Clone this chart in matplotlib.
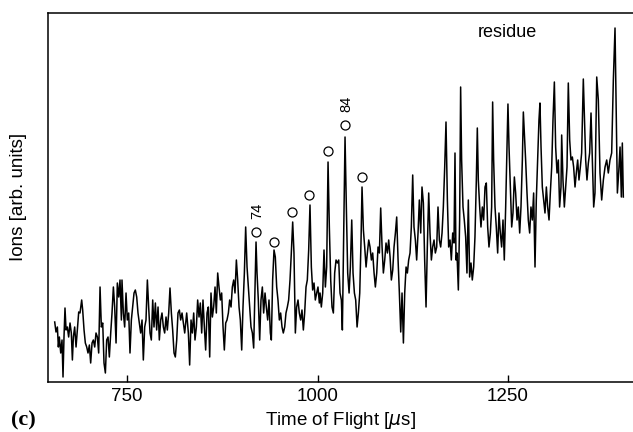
import matplotlib.pyplot as plt

plt.rcParams['font.family'] = ['Liberation Sans', 'DejaVu Sans']

# spectrum: time of flight [us] and ion signal [arb.]
tof = [
    655.1, 656.8, 658.6, 659.9, 661.2, 663.0, 664.7, 666.0, 667.3, 668.6,
    670.0, 671.7, 673.4, 675.2, 676.9, 678.3, 679.6, 681.3, 683.1, 684.8,
    686.6, 688.3, 690.5, 691.8, 693.6, 695.3, 697.1, 698.8, 700.6, 702.3,
    704.1, 705.8, 707.6, 709.3, 711.1, 712.8, 714.6, 716.3, 718.1, 719.8,
    721.6, 723.3, 725.1, 726.8, 728.6, 730.3, 732.1, 733.8, 735.6, 737.3,
    739.1, 740.8, 742.6, 743.4, 745.2, 746.9, 748.7, 750.4, 752.2, 753.9,
    755.7, 757.4, 759.2, 760.9, 762.7, 764.4, 766.2, 767.9, 769.7, 771.4,
    773.2, 774.9, 776.7, 778.4, 780.2, 781.9, 783.7, 785.4, 787.2, 788.9,
    790.7, 792.4, 794.2, 795.9, 797.7, 799.4, 801.2, 802.9, 804.7, 806.4,
    808.2, 809.9, 811.7, 813.4, 815.2, 816.9, 818.7, 820.4, 822.2, 823.9,
    825.7, 827.4, 828.3, 830.5, 832.2, 834.0, 835.7, 837.5, 839.2, 841.0,
    842.7, 844.5, 846.2, 848.0, 849.7, 851.5, 853.2, 855.0, 856.7, 858.5,
    860.2, 862.0, 863.7, 865.5, 867.2, 869.0, 870.7, 872.5, 874.2, 876.0,
    877.7, 879.5, 881.2, 883.0, 884.7, 886.5, 888.2, 890.0, 891.7, 893.5,
    895.2, 897.0, 898.7, 900.5, 902.2, 904.0, 905.7, 907.5, 909.2, 911.0,
    912.7, 914.5, 916.2, 918.0, 919.3, 920.6, 922.3, 924.1, 925.8, 927.6,
    929.3, 931.1, 932.8, 934.6, 936.3, 938.1, 939.4, 941.1, 942.9, 944.6,
    946.4, 948.1, 949.9, 951.6, 953.4, 955.1, 956.9, 958.6, 960.4, 962.1,
    963.9, 965.6, 967.4, 969.1, 970.9, 972.6, 974.4, 976.1, 977.9, 979.6,
    981.4, 983.1, 984.9, 986.6, 988.4, 990.1, 991.9, 993.6, 995.4, 997.1,
    998.9, 1000.6, 1002.4, 1003.3, 1005.0, 1006.8, 1008.5, 1010.3, 1012.0, 1013.8,
    1015.5, 1017.3, 1019.0, 1020.8, 1022.5, 1024.3, 1026.0, 1027.8, 1029.5, 1031.3,
    1032.6, 1034.4, 1036.1, 1037.9, 1039.6, 1041.4, 1043.1, 1044.9, 1046.6, 1048.4,
    1050.1, 1051.9, 1053.6, 1055.4, 1057.1, 1058.4, 1060.2, 1061.9, 1063.7, 1065.4,
    1067.2, 1068.9, 1070.7, 1072.4, 1074.2, 1075.9, 1077.7, 1079.4, 1081.2, 1082.9,
    1084.7, 1086.4, 1088.2, 1089.9, 1091.7, 1093.4, 1095.2, 1096.9, 1098.7, 1100.4,
    1102.2, 1103.9, 1105.7, 1107.4, 1109.2, 1110.9, 1112.7, 1114.4, 1116.2, 1117.9,
    1119.6, 1121.4, 1123.1, 1124.9, 1126.6, 1128.4, 1130.1, 1131.9, 1133.6, 1135.4,
    1137.1, 1138.9, 1140.6, 1142.4, 1144.1, 1145.9, 1147.6, 1149.4, 1151.1, 1152.9,
    1154.6, 1156.4, 1158.1, 1159.9, 1161.6, 1163.4, 1165.1, 1166.9, 1168.6, 1170.4,
    1172.1, 1173.9, 1175.6, 1177.4, 1179.1, 1180.4, 1181.7, 1183.0, 1184.8, 1186.5,
    1187.8, 1189.1, 1190.9, 1192.6, 1194.4, 1196.1, 1197.9, 1199.6, 1201.4, 1203.1,
    1204.9, 1206.6, 1208.4, 1209.7, 1211.0, 1212.8, 1214.5, 1216.3, 1218.0, 1219.8,
    1221.5, 1223.3, 1225.0, 1226.8, 1228.5, 1229.8, 1231.1, 1232.9, 1234.6, 1236.4,
    1238.1, 1239.9, 1241.6, 1243.4, 1245.1, 1246.9, 1248.6, 1249.9, 1251.3, 1253.0,
    1254.8, 1256.5, 1258.3, 1260.0, 1261.8, 1263.5, 1265.3, 1267.0, 1268.8, 1270.1,
    1271.4, 1273.1, 1274.9, 1276.6, 1278.4, 1280.1, 1281.9, 1283.6, 1285.4, 1287.1,
    1288.9, 1290.6, 1291.9, 1293.3, 1295.0, 1296.8, 1298.5, 1300.3, 1302.0, 1303.8,
    1305.5, 1307.3, 1309.0, 1310.8, 1312.5, 1314.3, 1316.0, 1317.7, 1319.5, 1320.4,
    1322.1, 1323.9, 1325.6, 1327.4, 1329.1, 1330.9, 1332.6, 1334.4, 1336.1, 1337.9,
    1339.6, 1341.4, 1343.1, 1344.9, 1346.6, 1348.8, 1350.1, 1351.9, 1353.6, 1355.4,
    1357.1, 1358.9, 1360.6, 1362.4, 1364.1, 1366.4, 1368.5, 1370.7, 1372.9, 1375.1,
    1377.3, 1379.5, 1381.6, 1383.8, 1386.0, 1388.2, 1390.4, 1391.7, 1393.5, 1395.2,
    1397.0, 1398.7, 1400.0, 1401.3,
]
ions = [
    58, 48, 53, 33, 43, 27, 40, 3, 43, 72,
    50, 53, 43, 57, 47, 20, 43, 53, 33, 50,
    68, 67, 80, 70, 50, 37, 33, 27, 35, 17,
    37, 40, 33, 47, 43, 27, 93, 53, 57, 17,
    7, 40, 43, 23, 47, 67, 93, 73, 37, 97,
    83, 100, 60, 100, 67, 53, 87, 60, 67, 27,
    60, 73, 87, 90, 83, 67, 57, 47, 60, 20,
    53, 60, 100, 73, 47, 40, 80, 53, 77, 50,
    73, 40, 60, 67, 53, 47, 63, 50, 67, 92,
    67, 50, 27, 23, 40, 67, 70, 60, 67, 57,
    47, 60, 67, 47, 15, 60, 47, 67, 40, 53,
    80, 63, 77, 47, 80, 53, 30, 67, 73, 23,
    87, 63, 73, 93, 67, 107, 93, 80, 87, 53,
    30, 57, 60, 67, 80, 73, 93, 100, 87, 120,
    100, 73, 60, 30, 73, 107, 153, 113, 93, 73,
    53, 47, 32, 93, 138, 107, 80, 40, 80, 93,
    67, 87, 73, 60, 80, 47, 40, 100, 130, 123,
    93, 80, 60, 67, 53, 47, 53, 67, 73, 80,
    100, 127, 158, 127, 47, 73, 80, 67, 60, 70,
    50, 67, 93, 100, 130, 175, 113, 90, 97, 80,
    87, 93, 77, 87, 73, 87, 130, 93, 113, 218,
    153, 100, 73, 67, 107, 120, 117, 120, 87, 80,
    50, 153, 243, 170, 107, 87, 113, 160, 107, 87,
    80, 53, 67, 87, 140, 193, 150, 133, 113, 127,
    140, 133, 120, 127, 107, 93, 107, 133, 127, 172,
    133, 107, 120, 137, 127, 140, 123, 100, 110, 133,
    147, 163, 120, 87, 48, 87, 37, 87, 113, 107,
    120, 127, 153, 205, 153, 140, 120, 147, 180, 147,
    193, 177, 120, 73, 133, 187, 147, 120, 133, 140,
    127, 133, 173, 140, 133, 147, 173, 213, 258, 180,
    133, 140, 120, 147, 137, 227, 120, 127, 90, 160,
    293, 220, 173, 160, 143, 107, 180, 103, 117, 100,
    113, 143, 200, 252, 200, 173, 153, 173, 160, 193,
    197, 153, 133, 147, 173, 278, 220, 173, 153, 127,
    167, 147, 133, 160, 120, 173, 233, 276, 233, 193,
    153, 167, 203, 187, 160, 173, 147, 173, 220, 268,
    247, 220, 187, 160, 147, 173, 160, 187, 113, 180,
    220, 260, 277, 233, 193, 180, 167, 193, 173, 160,
    187, 213, 260, 298, 233, 207, 220, 173, 193, 245,
    200, 173, 193, 213, 297, 240, 220, 223, 213, 193,
    207, 220, 200, 213, 227, 301, 267, 220, 200, 217,
    227, 267, 220, 173, 187, 303, 280, 207, 180, 200,
    213, 220, 207, 220, 227, 300, 352, 280, 187, 207,
    233, 183, 237, 183,
]

# open circles above the marked peaks, two of them carry the mass label
circle_tof = [919.3, 942.5, 966.9, 988.8, 1014.2, 1036.1, 1058.0]
circle_ions = [148, 138, 168, 185, 229, 255, 203]
mass_labels = {0: '74', 5: '84'}
xticks = [750, 1000, 1250]

fig = plt.figure(figsize=(6.33, 4.32), dpi=100)
ax = fig.add_axes([48 / 633, 1 - 381.5 / 432, 1 - 48 / 633, 368.5 / 432])

ax.plot(tof, ions, color='black', lw=1.1)
ax.plot(circle_tof, circle_ions, 'o', ms=6.5, mfc='none', mec='black', mew=0.9)
for i, lab in mass_labels.items():
    ax.annotate(lab, (circle_tof[i], circle_ions[i]), xytext=(1, 15),
                textcoords='offset points', rotation=90,
                ha='center', va='center', fontsize=10.5)

ax.set_xlim(646.3, 1414)
ax.set_ylim(-1.5, 367)
ax.set_xticks(xticks)
ax.set_yticks([])
ax.tick_params(axis='x', direction='in', length=5, width=1, labelsize=13.5, pad=5)
for s in ['left', 'bottom', 'top']:
    ax.spines[s].set_linewidth(1.1)
ax.spines['right'].set_visible(False)

ax.set_xlabel('Time of Flight [$\\mu$s]', fontsize=13.5, labelpad=3)
ax.set_ylabel('Ions [arb. units]', fontsize=13.5)
ax.yaxis.set_label_coords(-0.036, 0.5)
ax.text(0.785, 0.946, 'residue', transform=ax.transAxes,
        ha='center', va='center', fontsize=13)
fig.text(0.018, 0.015, '(c)', family=['Liberation Serif'], weight='bold', fontsize=16)

fig.savefig('out.png', dpi=100)
